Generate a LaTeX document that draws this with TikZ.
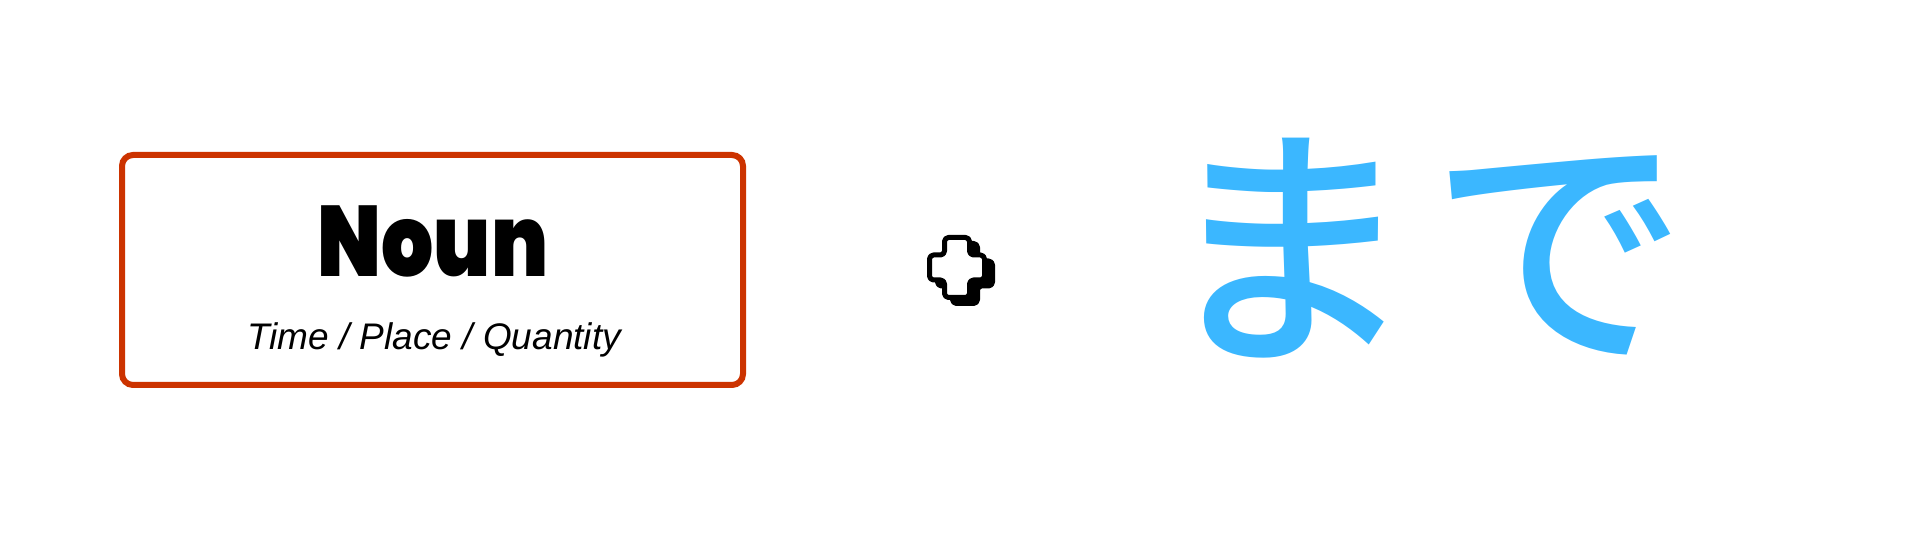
\documentclass[tikz,border=0pt]{standalone}
\usepackage{fontspec}
\usepackage{graphicx}
\setmainfont{Liberation Sans}
\newfontfamily\nounfont{Poppins Black}
\newfontfamily\subfont{Liberation Sans}
\IfFontExistsTF{Noto Sans CJK JP Medium}
  {\newfontfamily\cjk{Noto Sans CJK JP Medium}}
  {\newfontfamily\cjk{Noto Sans CJK JP}[FakeBold=2]}
\definecolor{boxred}{RGB}{204,51,0}
\definecolor{jpblue}{RGB}{59,183,255}
\tikzset{
  nounbox/.style={draw=boxred, line width=6pt, rounded corners=11pt, fill=white,
    minimum width=621pt, minimum height=230pt, inner sep=0pt},
  nountext/.style={anchor=base, inner sep=0pt, font=\nounfont\fontsize{100}{110}\selectfont},
  subtext/.style={anchor=base, inner sep=0pt, font=\subfont\itshape\fontsize{37}{44}\selectfont},
  jptext/.style={anchor=base, inner sep=0pt, text=jpblue, font=\cjk\fontsize{258}{280}\selectfont},
  crossline/.style={line width=5pt, rounded corners=4pt, line join=round}
}
\begin{document}
\begin{tikzpicture}[x=1pt,y=1pt]
\useasboundingbox (0,0) rectangle (1920,540);
\node[nounbox] (box) at (432.5,270) {};
\node[nountext] (noun) at (433,263) {\scalebox{0.82}[1]{Noun}};
\node[subtext] (sub) at (434,190) {Time / Place / Quantity};
\coordinate (plus) at (957,272.5);
\def\crosspath{(-12.5,30) -- (12.5,30) -- (12.5,12.5) -- (27.5,12.5) -- (27.5,-12.5) -- (12.5,-12.5) -- (12.5,-30) -- (-12.5,-30) -- (-12.5,-12.5) -- (-27.5,-12.5) -- (-27.5,12.5) -- (-12.5,12.5) -- cycle}
\begin{scope}[shift={(plus)}]
  \filldraw[crossline, fill=black, draw=black, shift={(8,-6)}] \crosspath;
  \filldraw[crossline, fill=white, draw=black] \crosspath;
\end{scope}
\node[jptext] (made) at (1424,195) {ま\kern14pt で};
\end{tikzpicture}
\end{document}
